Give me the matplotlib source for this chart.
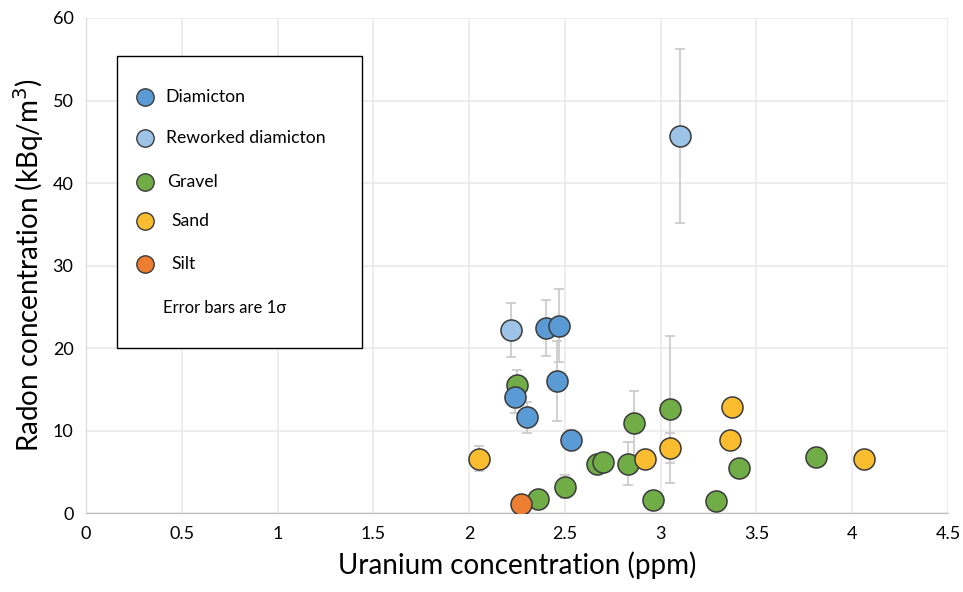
import numpy as np
import matplotlib
matplotlib.use("Agg")
import matplotlib.pyplot as plt
from matplotlib.patches import Rectangle

plt.rcParams['font.family'] = ['Lato', 'DejaVu Sans']

# uranium (ppm), radon (kBq/m3), 1-sigma error on radon
diam_u = [2.24, 2.30, 2.53, 2.40, 2.46, 2.47]
diam_rn = [14.1, 11.6, 8.9, 22.4, 16.0, 22.7]
diam_err = [2.0, 1.9, 1.2, 3.4, 4.9, 4.4]

rew_u = [2.22, 3.10]
rew_rn = [22.2, 45.7]
rew_err = [3.3, 10.5]

grav_u = [2.25, 2.36, 2.50, 2.67, 2.70, 2.83, 2.86, 2.96, 3.05, 3.29, 3.41, 3.81]
grav_rn = [15.5, 1.7, 3.2, 6.0, 6.2, 6.0, 10.9, 1.6, 12.6, 1.4, 5.5, 6.8]
grav_err = [1.8, 0.6, 1.4, 0.8, 0.8, 2.6, 3.9, 0.5, 8.9, 0.5, 0.8, 0.8]

sand_u = [2.05, 2.92, 3.05, 3.36, 3.37, 4.06]
sand_rn = [6.6, 6.6, 7.9, 8.9, 12.8, 6.6]
sand_err = [1.5, 0.8, 1.8, 0.8, 0.8, 0.8]

silt_u = [2.27]
silt_rn = [1.05]
silt_err = [0.4]

series = [
    ("Gravel", grav_u, grav_rn, grav_err, "#70ad47"),
    ("Sand", sand_u, sand_rn, sand_err, "#fbbd30"),
    ("Silt", silt_u, silt_rn, silt_err, "#ed7d31"),
    ("Diamicton", diam_u, diam_rn, diam_err, "#5b9bd5"),
    ("Reworked diamicton", rew_u, rew_rn, rew_err, "#9dc3e6"),
]

fig = plt.figure(figsize=(9.63, 5.92), dpi=100)
ax = fig.add_axes([0.0893, 0.1334, 0.8951, 0.8362])

for name, u, rn, err, col in series:
    ax.errorbar(u, rn, yerr=err, fmt='none', ecolor='#c8c8c8', elinewidth=1.2,
                capsize=3.5, capthick=1.2, zorder=2)
for name, u, rn, err, col in series:
    ax.scatter(u, rn, s=230, c=col, edgecolors='#3a3a3a', linewidths=1.1, zorder=3)

ax.set_xlim(0, 4.5)
ax.set_ylim(0, 60)
ax.set_xticks(np.arange(0, 4.51, 0.5))
ax.set_xticklabels(["0", "0.5", "1", "1.5", "2", "2.5", "3", "3.5", "4", "4.5"])
ax.set_yticks(np.arange(0, 61, 10))
ax.tick_params(length=0, labelsize=13, pad=9, colors='#000000')
ax.grid(True, color='#e8e8e8', linewidth=1.1, zorder=0)
ax.set_axisbelow(True)
for s in ['top', 'right']:
    ax.spines[s].set_visible(False)
ax.spines['bottom'].set_color('#bfbfbf')
ax.spines['left'].set_color('#d9d9d9')

ax.set_xlabel("Uranium concentration (ppm)", fontsize=20, labelpad=7)
ax.set_ylabel("Radon concentration (kBq/m$^3$)", fontsize=20, labelpad=5)

# hand-built legend box
box = Rectangle((117, 592 - 348), 245, 292, transform=None, facecolor='white',
                edgecolor='black', linewidth=1.0, zorder=5)
fig.patches.append(box)
leg_rows = [("Diamicton", "#5b9bd5", 97, 165), ("Reworked diamicton", "#9dc3e6", 138, 166),
            ("Gravel", "#70ad47", 182, 167), ("Sand", "#fbbd30", 221, 171),
            ("Silt", "#ed7d31", 264, 171)]
for lab, col, py, tx in leg_rows:
    fig.lines.append(plt.Line2D([145], [592 - py], transform=None, marker='o', markersize=12.5,
                                markerfacecolor=col, markeredgecolor='#3a3a3a',
                                markeredgewidth=1.0, linestyle='none', zorder=6))
    fig.text(tx / 963, 1 - py / 592, lab, fontsize=12.7, va='center', ha='left', zorder=6)
fig.text(163 / 963, 1 - 308 / 592, "Error bars are 1σ", fontsize=12, va='center', ha='left',
         zorder=6)

fig.savefig("out.png", dpi=100)
